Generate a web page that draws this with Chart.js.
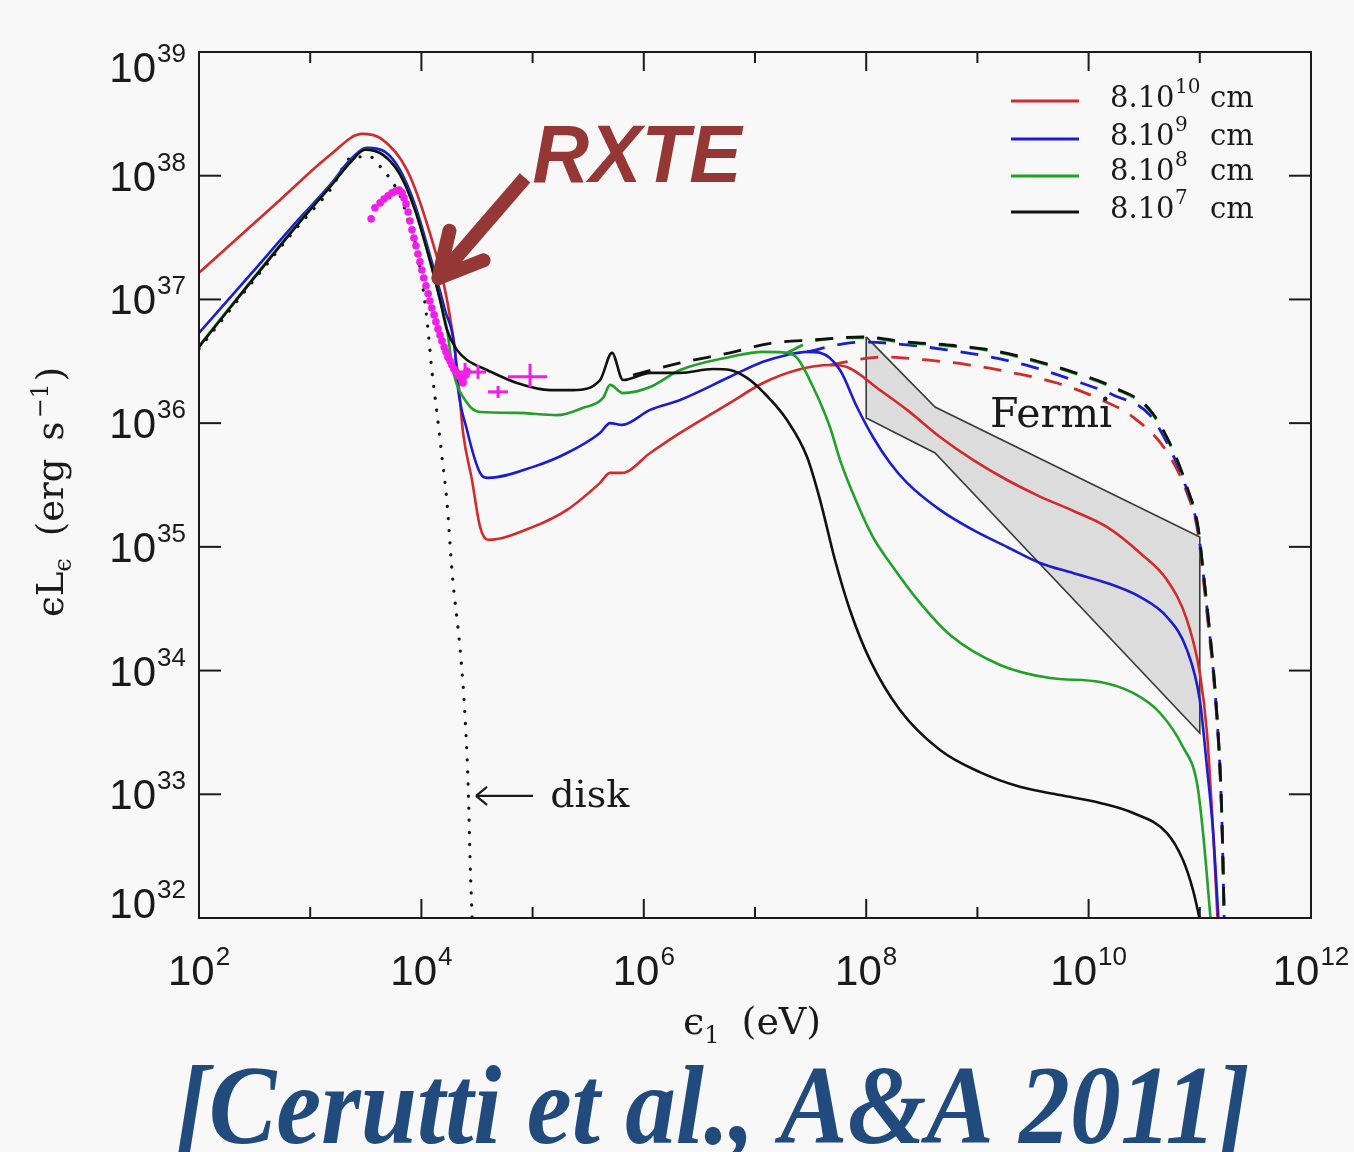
<!DOCTYPE html>
<html>
<head>
<meta charset="UTF-8">
<title>Cerutti 2011 - spectrum</title>
<script src="https://cdn.jsdelivr.net/npm/chart.js@4.4.0/dist/chart.umd.min.js"></script>
<style>
  body { margin: 0; background: #f8f8f8; }
  canvas { display: block; }
</style>
</head>
<body>
<canvas id="sed" width="1354" height="1152"></canvas>
<script>
// photon energy (eV) , eps*L_eps (erg/s)
const redSolid = [[1e2,1.64e37],[5.35e2,6.37e37],[1.51e3,1.47e38],[2.92e3,2.18e38],[4.25e3,2.02e38],[7.43e3,1.11e38],[1.19e4,3.45e37],[1.70e4,9.9e36],[2.09e4,2.84e36],[2.37e4,8.34e35],[2.85e4,3.47e35],[3.37e4,1.45e35],[3.97e4,1.14e35],[1.01e5,1.45e35],[2.04e5,1.99e35],[4.04e5,3.29e35],[4.97e5,3.96e35],[6.37e5,3.96e35],[1.14e6,5.74e35],[2.12e6,8.34e35],[5.96e6,1.46e36],[1.18e7,2.11e36],[2.39e7,2.69e36],[4.72e7,2.95e36],[6.71e7,2.84e36],[1.33e8,1.85e36],[2.33e8,1.28e36],[4.61e8,7.73e35],[9.12e8,5.05e35],[1.85e9,3.47e35],[3.66e9,2.55e35],[7.24e9,1.96e35],[1.46e10,1.45e35],[2.90e10,8.93e34],[5.07e10,5.40e34],[7.67e10,2.56e34],[1.00e11,9.57e33],[1.16e11,3.13e33],[1.32e11,4.86e32],[1.45e11,9e31]];
const blueSolid = [[1e2,5.36e36],[2.88e2,1.58e37],[8.09e2,4.56e37],[1.51e3,8.43e37],[2.28e3,1.34e38],[3.24e3,1.68e38],[4.71e3,1.56e38],[6.43e3,1.11e38],[8.75e3,5.81e37],[1.19e4,2.29e37],[1.63e4,8.22e36],[2.00e4,3.91e36],[2.09e4,2.23e36],[2.57e4,8.81e35],[3.37e4,3.96e35],[3.97e4,3.61e35],[1.01e5,4.43e35],[2.04e5,5.74e35],[4.04e5,8.34e35],[4.97e5,1.00e36],[6.37e5,9.68e35],[1.14e6,1.28e36],[2.12e6,1.54e36],[5.96e6,2.37e36],[1.18e7,3.13e36],[1.94e7,3.56e36],[2.94e7,3.77e36],[3.85e7,3.70e36],[5.81e7,2.69e36],[8.26e7,1.35e36],[1.15e8,7.73e35],[1.64e8,4.76e35],[2.33e8,3.29e35],[4.61e8,1.99e35],[9.12e8,1.37e35],[1.85e9,9.98e34],[3.66e9,7.41e34],[7.24e9,6.15e34],[1.46e10,5.11e34],[2.90e10,3.94e34],[5.07e10,2.71e34],[7.67e10,1.47e34],[1.00e11,5.78e33],[1.16e11,1.66e33],[1.32e11,4.86e32],[1.48e11,9e31]];
const greenSolid = [[1e2,4.2e36],[2.88e2,1.38e37],[8.09e2,4.3e37],[1.51e3,8.2e37],[2.28e3,1.28e38],[3.11e3,1.63e38],[4.52e3,1.48e38],[6.43e3,1.03e38],[8.75e3,5.4e37],[1.19e4,2.1e37],[1.47e4,1.0e37],[1.70e4,5.7e36],[1.92e4,2.69e36],[2.57e4,1.46e36],[3.37e4,1.23e36],[7.24e4,1.21e36],[1.66e5,1.16e36],[2.84e5,1.33e36],[4.30e5,1.60e36],[4.97e5,2.04e36],[6.50e5,1.75e36],[1.14e6,1.96e36],[2.12e6,2.69e36],[5.96e6,3.43e36],[1.18e7,3.77e36],[1.94e7,3.70e36],[2.39e7,3.37e36],[3.33e7,1.96e36],[4.72e7,9.31e35],[5.81e7,5.05e35],[8.26e7,2.26e35],[1.15e8,1.20e35],[1.64e8,7.41e34],[3.05e8,3.52e34],[5.68e8,1.94e34],[1.60e9,1.11e34],[4.50e9,8.71e33],[1.27e10,8.09e33],[2.51e10,6.59e33],[4.39e10,4.54e33],[7.06e10,2.41e33],[9.44e10,1.23e33],[1.07e11,4.86e32],[1.26e11,9e31]];
const blackSolid = [[1e2,4.13e36],[2.88e2,1.36e37],[8.09e2,4.24e37],[1.51e3,8.13e37],[2.28e3,1.27e38],[3.11e3,1.62e38],[4.52e3,1.47e38],[6.43e3,1.02e38],[8.75e3,5.30e37],[1.19e4,2.08e37],[1.47e4,9.91e36],[1.70e4,5.66e36],[2.09e4,3.91e36],[2.57e4,3.24e36],[3.89e4,2.69e36],[7.24e4,2.11e36],[1.44e5,1.85e36],[2.31e5,1.85e36],[4.04e5,2.23e36],[5.18e5,3.70e36],[6.50e5,2.23e36],[1.14e6,2.55e36],[2.12e6,2.55e36],[4.19e6,2.74e36],[5.96e6,2.69e36],[8.47e6,2.32e36],[1.18e7,1.79e36],[1.94e7,1.06e36],[2.94e7,5.33e35],[3.85e7,2.39e35],[5.24e7,7.83e34],[7.14e7,3.09e34],[1.08e8,1.22e34],[2.01e8,4.80e33],[4.61e8,2.28e33],[1.05e9,1.51e33],[2.41e9,1.15e33],[5.54e9,9.86e32],[1.27e10,8.51e32],[2.51e10,7.06e32],[5.07e10,4.86e32],[7.06e10,2.94e32],[8.69e10,1.68e32],[1.02e11,9e31]];

const blackDashed = [[8.00e5,2.45e36],[2.12e6,3.07e36],[5.96e6,3.70e36],[1.45e7,4.45e36],[3.33e7,4.71e36],[9.35e7,4.98e36],[2.33e8,4.53e36],[5.33e8,4.29e36],[1.30e9,3.91e36],[3.16e9,3.24e36],[7.24e9,2.59e36],[1.66e10,1.96e36],[3.56e10,1.28e36],[5.74e10,6.07e35],[7.67e10,3.05e35],[9.64e10,1.45e35],[1.07e11,6.50e34],[1.19e11,2.71e34],[1.32e11,1.07e34],[1.43e11,4.22e33],[1.52e11,1.66e33],[1.58e11,6.56e32],[1.62e11,2.58e32],[1.66e11,9e31]];
const greenDashed = [[1.94e7,3.70e36],[3.33e7,4.60e36],[9.35e7,4.90e36],[2.33e8,4.46e36],[5.33e8,4.22e36],[1.30e9,3.85e36],[3.16e9,3.19e36],[7.24e9,2.55e36],[1.66e10,1.93e36],[3.56e10,1.26e36],[5.74e10,5.98e35],[7.67e10,3.0e35],[9.64e10,1.43e35],[1.07e11,6.4e34],[1.19e11,2.67e34],[1.32e11,1.05e34],[1.43e11,4.16e33],[1.52e11,1.64e33],[1.58e11,6.5e32],[1.62e11,2.55e32],[1.66e11,9e31]];
const blueDashed = [[2.94e7,3.77e36],[6.18e7,4.37e36],[9.35e7,4.53e36],[2.33e8,4.29e36],[5.33e8,3.91e36],[1.30e9,3.43e36],[3.16e9,2.84e36],[7.24e9,2.23e36],[1.66e10,1.69e36],[3.56e10,1.16e36],[5.74e10,5.53e35],[7.67e10,2.88e35],[9.64e10,1.37e35],[1.07e11,6.27e34],[1.19e11,2.56e34],[1.32e11,1.01e34],[1.43e11,3.99e33],[1.52e11,1.57e33],[1.58e11,6.19e32],[1.62e11,2.44e32],[1.66e11,9e31]];
const redDashed = [[4.72e7,2.95e36],[1.41e8,3.43e36],[3.52e8,3.24e36],[8.57e8,2.95e36],[2.09e9,2.55e36],[5.20e9,2.11e36],[1.19e10,1.60e36],[2.51e10,1.12e36],[5.07e10,5.85e35],[7.67e10,2.73e35],[9.64e10,1.29e35],[1.07e11,5.71e34],[1.19e11,2.34e34],[1.32e11,9.57e33],[1.43e11,3.85e33],[1.52e11,1.51e33],[1.58e11,5.97e32],[1.62e11,2.44e32],[1.66e11,9e31]];

const diskDotted = [[1e2,3.98e36],[2.88e2,1.31e37],[8.09e2,4.07e37],[1.51e3,7.67e37],[2.43e3,1.42e38],[3.45e3,1.42e38],[4.52e3,1.11e38],[5.56e3,8.75e37],[6.67e3,6.37e37],[7.89e3,3.85e37],[9.13e3,2.51e37],[1.03e4,1.26e37],[1.14e4,6.0e36],[1.24e4,2.69e36],[1.38e4,1.21e36],[1.53e4,5.33e35],[1.70e4,2.26e35],[1.89e4,6.15e34],[2.23e4,1.47e34],[2.48e4,3.99e33],[2.65e4,9.86e32],[2.74e4,2.94e32],[2.87e4,9e31]];

// RXTE points and crosses [E, Elo, Ehi, L, Llo, Lhi]
const rxteDots = [[3.53e3,4.48e37],[3.82e3,5.50e37],[4.25e3,6.03e37],[4.61e3,6.49e37],[5.01e3,6.87e37],[5.44e3,7.26e37],[5.92e3,7.54e37],[6.30e3,7.67e37],[6.70e3,7.26e37],[6.98e3,6.62e37],[7.28e3,5.92e37],[7.59e3,5.09e37],[7.89e3,4.31e37],[8.23e3,3.65e37],[8.57e3,3.14e37],[8.93e3,2.71e37],[9.31e3,2.33e37],[9.70e3,2.01e37],[1.01e4,1.73e37],[1.05e4,1.49e37],[1.10e4,1.29e37],[1.15e4,1.11e37],[1.19e4,9.72e36],[1.24e4,8.53e36],[1.30e4,7.50e36],[1.35e4,6.58e36],[1.41e4,5.78e36],[1.47e4,5.16e36],[1.53e4,4.62e36],[1.60e4,4.13e36],[1.66e4,3.77e36],[1.73e4,3.43e36],[1.81e4,3.18e36],[1.88e4,2.95e36],[1.96e4,2.74e36],[2.05e4,2.59e36],[2.13e4,2.45e36],[2.22e4,2.37e36],[2.32e4,2.23e36],[2.37e4,2.11e36],[2.52e4,2.45e36],[2.57e4,2.64e36]];
const rxteCrosses = [[2.47e4,2.13e4,2.85e4,2.59e36,2.11e36,3.07e36],[3.23e4,2.74e4,3.81e4,2.59e36,2.28e36,2.95e36],[4.89e4,3.97e4,6.01e4,1.79e36,1.60e36,2.00e36],[9.48e4,6.01e4,1.35e5,2.37e36,1.96e36,3.02e36]];

// Fermi bow-tie outline
const fermiBowtie = [[1e8,4.98e36],[4.16e8,1.35e36],[1e11,1.20e35],[1e11,3.13e33],[4.16e8,5.74e35],[1e8,1.10e36],[1e8,4.98e36]];

// axes
const yTicks = [1e32,1e33,1e34,1e35,1e36,1e37,1e38,1e39];
const xMajorTicks = [1e2,1e4,1e6,1e8,1e10,1e12];
const xMinorTicks = [1e3,1e5,1e7,1e9,1e11];

const legendExps = ['10','9','8','7'];
const legendColors = ['#d42a2a','#1c1cd0','#22a02a','#111111'];

const RED = '#d42a2a', BLUE = '#1c1cd0', GREEN = '#22a02a', BLACK = '#111111', MAG = '#f01ee6';
const sans = '"Liberation Sans", Arial, sans-serif';
const serif = '"DejaVu Serif", serif';

const pts = arr => arr.map(p => ({x: p[0], y: p[1]}));

function solid(data, color) {
  return {data: pts(data), borderColor: color, borderWidth: 2.6, pointRadius: 0, fill: false, cubicInterpolationMode: 'monotone'};
}
function dashed(data, color) {
  return {data: pts(data), borderColor: color, borderWidth: 2.8, borderDash: [18, 13], pointRadius: 0, fill: false, cubicInterpolationMode: 'monotone'};
}

let datasets = [];
rxteCrosses.forEach(c => {
  datasets.push({data: [{x: c[1], y: c[3]}, {x: c[2], y: c[3]}], borderColor: MAG, borderWidth: 3, pointRadius: 0, tension: 0});
  datasets.push({data: [{x: c[0], y: c[4]}, {x: c[0], y: c[5]}], borderColor: MAG, borderWidth: 3, pointRadius: 0, tension: 0});
});
datasets.push({data: pts(rxteDots), showLine: false, pointRadius: 3.8, pointBackgroundColor: MAG, pointBorderWidth: 0, borderColor: MAG});
datasets.push(solid(blackSolid, BLACK));
datasets.push(solid(greenSolid, GREEN));
datasets.push(solid(blueSolid, BLUE));
datasets.push(solid(redSolid, RED));
datasets.push(dashed(blackDashed, BLACK));
datasets.push(dashed(greenDashed, GREEN));
datasets.push(dashed(blueDashed, BLUE));
datasets.push(dashed(redDashed, RED));
datasets.push({data: pts(diskDotted), borderColor: BLACK, borderWidth: 3.2, borderDash: [0.1, 12], borderCapStyle: 'round', pointRadius: 0, cubicInterpolationMode: 'monotone'});
datasets.push({data: pts(fermiBowtie), borderColor: '#3a3a3a', borderWidth: 1.6, backgroundColor: '#dcdcdc', fill: 'shape', pointRadius: 0, tension: 0});

function powLabel(ctx, exp, x, y, align) {
  ctx.font = '42px ' + sans;
  const wb = ctx.measureText('10').width;
  ctx.font = '26px ' + sans;
  const we = ctx.measureText(exp).width;
  const total = wb + 1 + we;
  const x0 = align === 'right' ? x - total : x - total / 2;
  ctx.font = '42px ' + sans;
  ctx.fillText('10', x0, y);
  ctx.font = '26px ' + sans;
  ctx.fillText(exp, x0 + wb + 1, y - 20);
}

// draw a run of text pieces: [text, size, dy, gapBefore]
function pieces(ctx, list, x, y) {
  let cx = x;
  list.forEach(([t, size, dy, gap]) => {
    cx += gap || 0;
    ctx.font = size + 'px ' + serif;
    ctx.fillText(t, cx, y + (dy || 0));
    cx += ctx.measureText(t).width;
  });
  return cx;
}

function seg(ctx, x1, y1, x2, y2) {
  ctx.beginPath(); ctx.moveTo(x1, y1); ctx.lineTo(x2, y2); ctx.stroke();
}

const decor = {
  id: 'decor',
  afterDraw(chart) {
    const ctx = chart.ctx, a = chart.chartArea;
    const xs = chart.scales.x, ys = chart.scales.y;
    ctx.save();
    ctx.textBaseline = 'alphabetic';
    ctx.textAlign = 'left';

    // frame and ticks
    ctx.strokeStyle = '#1a1a1a';
    ctx.lineWidth = 2;
    ctx.strokeRect(a.left, a.top, a.right - a.left, a.bottom - a.top);
    yTicks.forEach(v => {
      const py = ys.getPixelForValue(v);
      seg(ctx, a.left, py, a.left + 22, py);
      seg(ctx, a.right - 22, py, a.right, py);
    });
    xMajorTicks.forEach(v => {
      const px = xs.getPixelForValue(v);
      seg(ctx, px, a.bottom, px, a.bottom - 19);
      seg(ctx, px, a.top, px, a.top + 19);
    });
    xMinorTicks.forEach(v => {
      const px = xs.getPixelForValue(v);
      seg(ctx, px, a.bottom, px, a.bottom - 11);
      seg(ctx, px, a.top, px, a.top + 11);
    });

    // tick labels
    ctx.fillStyle = '#1a1a1a';
    yTicks.forEach(v => {
      const py = ys.getPixelForValue(v);
      const cy = Math.min(Math.max(py, a.top + 15), a.bottom - 15);
      powLabel(ctx, String(Math.round(Math.log10(v))), 186, cy + 15, 'right');
    });
    xMajorTicks.forEach(v => {
      powLabel(ctx, String(Math.round(Math.log10(v))), xs.getPixelForValue(v), 985, 'center');
    });

    // axis titles
    pieces(ctx, [['ϵ', 38], ['1', 24, 9], ['(eV)', 38, 0, 22]], 683, 1034);
    ctx.save();
    ctx.translate(63, 617);
    ctx.rotate(-Math.PI / 2);
    pieces(ctx, [['ϵL', 37], ['ϵ', 24, 8], ['(erg', 37, 0, 22], ['s', 37, 0, 18], ['−1', 24, -15, 3], [')', 37, 0, 2]], 0, 0);
    ctx.restore();

    // legend
    legendExps.forEach((e, i) => {
      const ly = [101, 139, 176, 212][i];
      const by = [107, 145, 180, 218][i];
      ctx.strokeStyle = legendColors[i];
      ctx.lineWidth = 3;
      seg(ctx, 1011, ly, 1079, ly);
      ctx.fillStyle = '#1a1a1a';
      ctx.font = '29px ' + serif;
      ctx.fillText('8.10', 1110, by);
      ctx.font = '20px ' + serif;
      ctx.fillText(e, 1175, by - 14);
      ctx.font = '29px ' + serif;
      ctx.fillText('cm', 1210, by);
    });

    // Fermi label
    ctx.fillStyle = '#1a1a1a';
    ctx.font = '41px ' + serif;
    ctx.fillText('Fermi', xs.getPixelForValue(1.3e9), ys.getPixelForValue(9.3e35));

    // disk label with arrow
    const dTip = [xs.getPixelForValue(3.1e4), ys.getPixelForValue(9.7e32)];
    const dTail = xs.getPixelForValue(1.01e5);
    ctx.strokeStyle = '#1a1a1a';
    ctx.lineWidth = 2.2;
    seg(ctx, dTip[0], dTip[1], dTail, dTip[1]);
    seg(ctx, dTip[0], dTip[1], dTip[0] + 11, dTip[1] - 9);
    seg(ctx, dTip[0], dTip[1], dTip[0] + 11, dTip[1] + 9);
    ctx.font = '38px ' + serif;
    ctx.fillText('disk', xs.getPixelForValue(1.44e5), ys.getPixelForValue(7.9e32));

    // RXTE arrow and label
    const rc = '#953735';
    const tip = [xs.getPixelForValue(1.35e4), ys.getPixelForValue(1.41e37)];
    const tail = [xs.getPixelForValue(8.55e4), ys.getPixelForValue(9.6e37)];
    const ang = Math.atan2(tail[1] - tip[1], tail[0] - tip[0]);
    ctx.strokeStyle = rc;
    ctx.lineWidth = 14;
    ctx.lineCap = 'butt';
    seg(ctx, tail[0], tail[1], tip[0] + 8 * Math.cos(ang), tip[1] + 8 * Math.sin(ang));
    ctx.lineCap = 'round';
    ctx.lineJoin = 'round';
    [-0.45, 0.45].forEach(d => {
      seg(ctx, tip[0] + 4 * Math.cos(ang), tip[1] + 4 * Math.sin(ang), tip[0] + 52 * Math.cos(ang + d), tip[1] + 52 * Math.sin(ang + d));
    });
    ctx.fillStyle = rc;
    ctx.font = 'bold italic 82px ' + sans;
    const rw = ctx.measureText('RXTE').width;
    const rx = xs.getPixelForValue(1.0e5), ry = ys.getPixelForValue(8.9e37);
    ctx.save();
    ctx.translate(rx, ry);
    ctx.scale(209 / rw, 1);
    ctx.fillText('RXTE', 0, 0);
    ctx.restore();

    // reference
    ctx.fillStyle = '#214a7d';
    ctx.font = 'bold italic 112px "Liberation Serif", serif';
    const cite = '[Cerutti et al., A&A 2011]';
    const cw = ctx.measureText(cite).width;
    ctx.save();
    ctx.translate(175, 1143);
    ctx.scale(1075 / cw, 1);
    ctx.fillText(cite, 0, 0);
    ctx.restore();

    ctx.restore();
  }
};

new Chart(document.getElementById('sed'), {
  type: 'line',
  data: {datasets: datasets},
  options: {
    responsive: false,
    animation: false,
    events: [],
    layout: {padding: {top: 52, right: 43, left: 0, bottom: 0}},
    plugins: {legend: {display: false}, tooltip: {enabled: false}},
    scales: {
      x: {
        type: 'logarithmic', min: 1e2, max: 1e12,
        ticks: {display: false}, grid: {display: false}, border: {display: false},
        afterFit: s => { s.height = 234; }
      },
      y: {
        type: 'logarithmic', min: 1e32, max: 1e39,
        ticks: {display: false}, grid: {display: false}, border: {display: false},
        afterFit: s => { s.width = 199; }
      }
    }
  },
  plugins: [decor]
});
</script>
</body>
</html>
